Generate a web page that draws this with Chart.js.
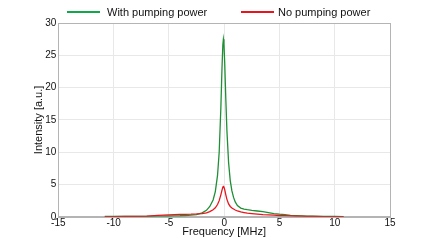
<!DOCTYPE html>
<html><head><meta charset="utf-8">
<script src="https://cdn.jsdelivr.net/npm/chart.js@4"></script>
<style>
html,body{margin:0;padding:0;background:#fff}
#wrap{position:relative;width:432px;height:244px}
.lg{position:absolute;top:5px;height:14px;font:11px 'Liberation Sans',Arial,sans-serif;color:#111;line-height:14px;white-space:nowrap}
.sw{position:absolute;top:11px;height:2px;width:33px}
</style>
</head><body><div id="wrap"><canvas id="c" width="432" height="244"></canvas>
<div id="legend"></div></div>
<script>
const freqMHz = [-10.8,-10,-9,-8,-7,-6,-5,-4.5,-4,-3.5,-3,-2.5,-2,-1.6,-1.3,-1,-0.8,-0.6,-0.45,-0.3,-0.2,-0.12,-0.07,-0.02,0.05,0.15,0.25,0.4,0.55,0.7,0.85,1,1.2,1.5,1.8,2.1,2.5,3,3.5,4,4.5,5,5.5,6,6.5,7,7.5,8,8.5,9,9.5,10,10.8];
const withPumping = [0.05,0.05,0.05,0.06,0.07,0.1,0.12,0.14,0.16,0.2,0.25,0.35,0.6,1.0,1.6,2.6,3.9,6.4,10,16.8,22.8,26.6,27.5,26.8,23.8,18.2,13.3,8.4,5.6,4.0,3.0,2.3,1.75,1.35,1.2,1.1,1.0,0.9,0.8,0.65,0.5,0.4,0.32,0.22,0.18,0.14,0.11,0.09,0.07,0.06,0.05,0.05,0.04];
const noPumping = [0.03,0.04,0.05,0.07,0.12,0.22,0.3,0.33,0.36,0.38,0.4,0.44,0.5,0.62,0.8,1.1,1.4,1.9,2.5,3.4,4.1,4.6,4.7,4.6,4.2,3.4,2.7,2.0,1.6,1.35,1.2,1.05,0.9,0.75,0.65,0.56,0.5,0.42,0.35,0.3,0.25,0.2,0.17,0.14,0.11,0.09,0.07,0.06,0.05,0.04,0.04,0.03,0.03];
const seriesNames = ["With pumping power","No pumping power"];
const seriesColors = ["#1f8f35","#e8161c"];
const legendColors = ["#12a84a","#e8161c"];
const xTicks = [-15,-10,-5,0,5,10,15];
const yTicks = [0,5,10,15,20,25,30];

// HTML legend (real text)
const lgPos = [{sw:67,tx:107},{sw:241,tx:278}];
const lgEl = document.getElementById('legend');
seriesNames.forEach((n,i)=>{
  const s=document.createElement('div');s.className='sw';s.style.left=lgPos[i].sw+'px';s.style.background=legendColors[i];lgEl.appendChild(s);
  const t=document.createElement('div');t.className='lg';t.style.left=lgPos[i].tx+'px';t.textContent=n;lgEl.appendChild(t);
});

const toPts = ys => freqMHz.map((x,i)=>({x:x,y:ys[i]}));
const frame = {id:'frame',afterDatasetsDraw(ch){const a=ch.chartArea,c=ch.ctx;c.save();c.strokeStyle='#b4b4b4';c.lineWidth=1;c.strokeRect(Math.round(a.left)+0.5,Math.round(a.top)+0.5,Math.round(a.right-a.left),Math.round(a.bottom-a.top));c.restore();}};
const font = "'Liberation Sans', Arial, sans-serif";
new Chart(document.getElementById('c'),{
 type:'line',
 data:{datasets:[
  {label:seriesNames[0],data:toPts(withPumping),borderColor:seriesColors[0],borderWidth:1.3,pointRadius:0,tension:0,order:1},
  {label:seriesNames[1],data:toPts(noPumping),borderColor:seriesColors[1],borderWidth:1.3,pointRadius:0,tension:0,order:0}
 ]},
 options:{responsive:false,animation:false,
  layout:{padding:{left:32,right:42,top:23,bottom:5}},
  plugins:{legend:{display:false},tooltip:{enabled:false}},
  scales:{
   x:{type:'linear',min:-15,max:15,afterBuildTicks(s){s.ticks=xTicks.map(v=>({value:v}));},
      ticks:{color:'#111',font:{family:font,size:10},padding:0,maxRotation:0},
      grid:{color:'#e8e8e8',drawTicks:false},border:{color:'#b4b4b4'},
      title:{display:true,text:'Frequency [MHz]',color:'#111',font:{family:font,size:11},padding:{top:-3,bottom:0}}},
   y:{min:0,max:30,afterBuildTicks(s){s.ticks=yTicks.map(v=>({value:v}));},
      ticks:{color:'#111',font:{family:font,size:10},padding:2},
      grid:{color:'#e8e8e8',drawTicks:false},border:{color:'#b4b4b4'},
      title:{display:true,text:'Intensity [a.u.]',color:'#111',font:{family:font,size:11},padding:{top:0,bottom:-2}}}
  }},
 plugins:[frame]
});
</script></body></html>
